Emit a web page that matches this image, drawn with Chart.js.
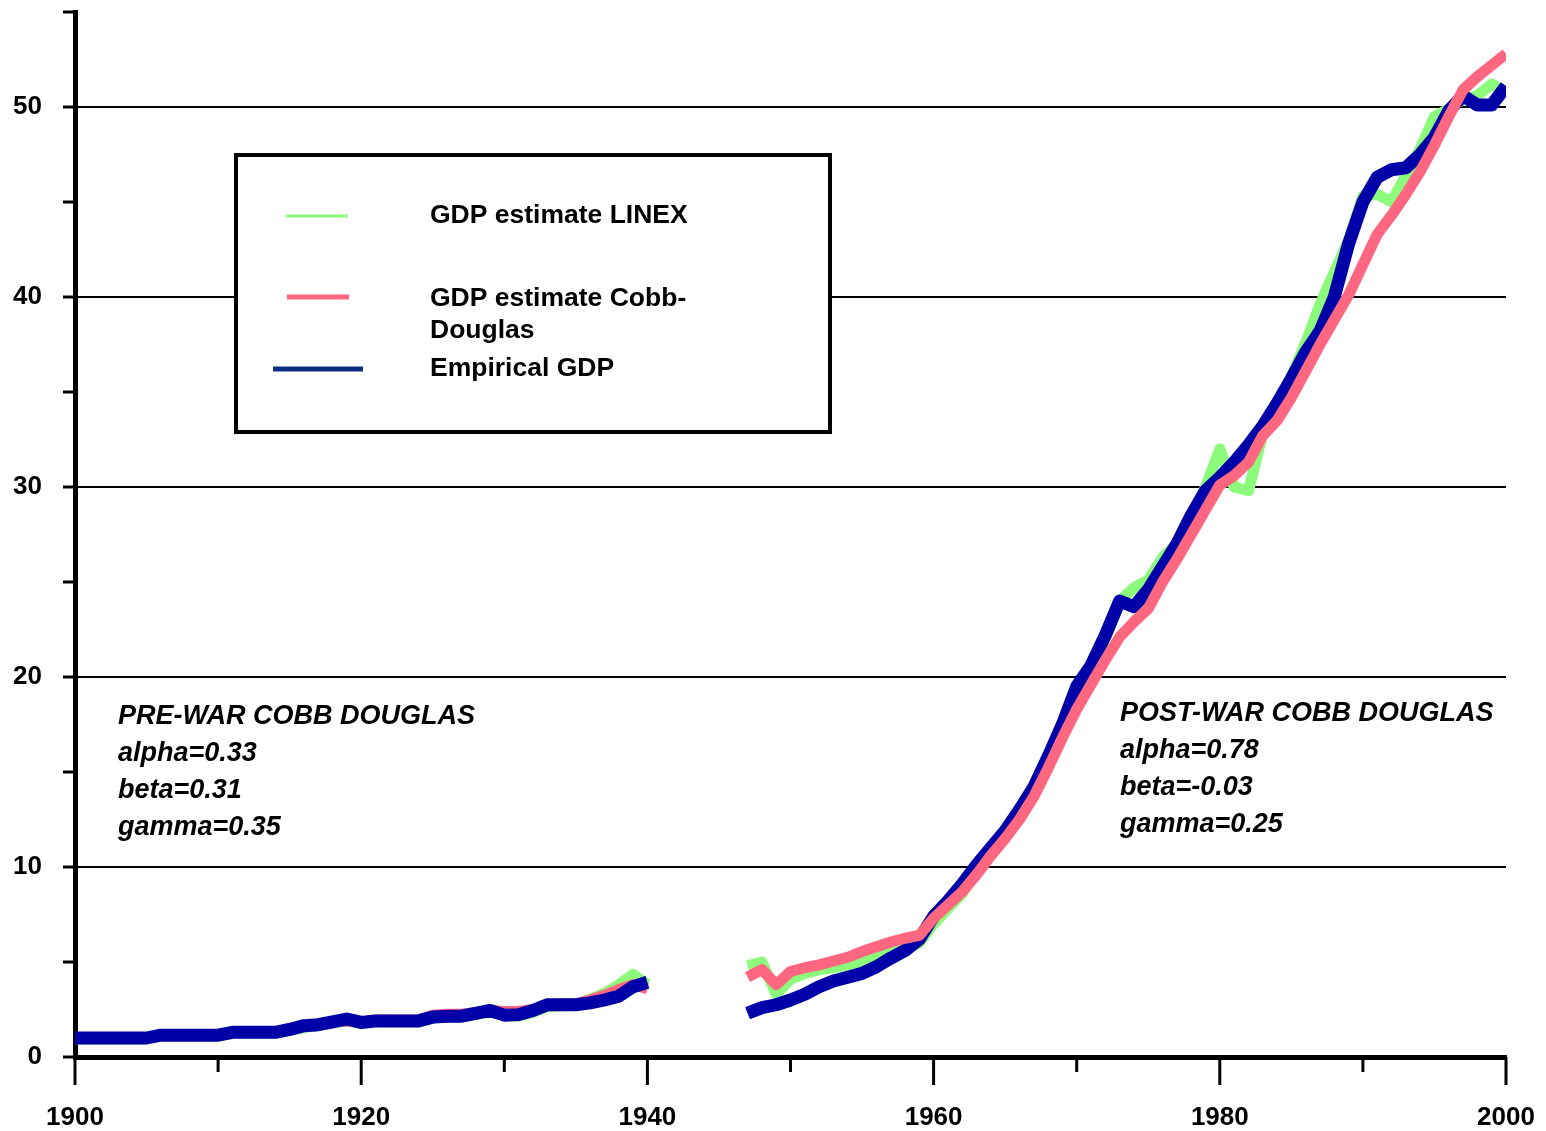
<!DOCTYPE html>
<html>
<head>
<meta charset="utf-8">
<script src="https://cdn.jsdelivr.net/npm/chart.js@4.4.1/dist/chart.umd.min.js"></script>
<style>
  html, body { margin: 0; padding: 0; background: #fff; }
  #wrap { width: 1546px; height: 1131px; position: relative; }
</style>
</head>
<body>
<div id="wrap"><canvas id="gdpChart"></canvas></div>
<script>
// years, split at the war gap
const preYears = [1900, 1901, 1902, 1903, 1904, 1905, 1906, 1907, 1908, 1909,
    1910, 1911, 1912, 1913, 1914, 1915, 1916, 1917, 1918, 1919,
    1920, 1921, 1922, 1923, 1924, 1925, 1926, 1927, 1928, 1929,
    1930, 1931, 1932, 1933, 1934, 1935, 1936, 1937, 1938, 1939, 1940];
const postYears = [1947, 1948, 1949, 1950, 1951, 1952, 1953, 1954, 1955, 1956,
    1957, 1958, 1959, 1960, 1961, 1962, 1963, 1964, 1965, 1966,
    1967, 1968, 1969, 1970, 1971, 1972, 1973, 1974, 1975, 1976,
    1977, 1978, 1979, 1980, 1981, 1982, 1983, 1984, 1985, 1986,
    1987, 1988, 1989, 1990, 1991, 1992, 1993, 1994, 1995, 1996,
    1997, 1998, 1999, 2000];

const linexPre = [0.95, 0.95, 0.95, 0.95, 0.95, 0.95, 1.1, 1.1, 1.1, 1.1,
    1.1, 1.25, 1.25, 1.25, 1.25, 1.4, 1.55, 1.65, 1.8, 1.9,
    1.75, 1.85, 1.85, 1.85, 1.85, 2.05, 2.1, 2.1, 2.25, 2.35,
    2.2, 2.15, 2.35, 2.65, 2.7, 2.75, 3.05, 3.35, 3.8, 4.35, 3.8];
const cobbPre = [1.0, 1.0, 1.0, 1.0, 1.0, 1.0, 1.15, 1.15, 1.15, 1.15,
    1.15, 1.3, 1.3, 1.3, 1.3, 1.5, 1.6, 1.7, 1.85, 1.9,
    1.85, 1.95, 1.95, 1.95, 1.95, 2.2, 2.25, 2.25, 2.35, 2.45,
    2.4, 2.4, 2.5, 2.7, 2.8, 2.8, 3.0, 3.25, 3.55, 3.8, 3.6];
const empiricalPre = [1.0, 1.0, 1.0, 1.0, 1.0, 1.0, 1.15, 1.15, 1.15, 1.15,
    1.15, 1.3, 1.3, 1.3, 1.3, 1.45, 1.65, 1.7, 1.85, 2.0,
    1.82, 1.9, 1.9, 1.9, 1.9, 2.1, 2.15, 2.15, 2.3, 2.45,
    2.2, 2.23, 2.45, 2.75, 2.75, 2.75, 2.85, 3.0, 3.2, 3.7, 3.93];

const linexPost = [4.8, 5.0, 3.3, 4.1, 4.4, 4.6, 4.7, 4.85, 5.0, 5.2,
    5.5, 5.7, 6.0, 7.0, 7.8, 8.6, 9.8, 10.8, 11.9, 13.0,
    14.3, 15.8, 17.5, 18.9, 20.4, 22.0, 24.0, 24.7, 25.1, 26.3,
    27.0, 28.4, 30.0, 32.0, 30.0, 29.8, 32.8, 33.6, 35.8, 37.6,
    39.6, 41.3, 43.0, 45.3, 45.4, 45.0, 46.4, 47.8, 49.5, 49.9,
    50.4, 50.6, 51.2, 50.8];
const cobbPost = [4.2, 4.6, 3.8, 4.5, 4.7, 4.85, 5.05, 5.25, 5.55, 5.8,
    6.05, 6.25, 6.4, 7.3, 8.0, 8.7, 9.6, 10.6, 11.5, 12.5,
    13.7, 15.2, 16.8, 18.3, 19.6, 20.9, 22.1, 22.9, 23.6, 25.0,
    26.2, 27.5, 28.8, 30.1, 30.6, 31.3, 32.7, 33.5, 34.7, 36.1,
    37.5, 38.8, 40.1, 41.7, 43.3, 44.3, 45.4, 46.6, 48.0, 49.5,
    50.9, 51.6, 52.2, 52.8];
const empiricalPost = [2.3, 2.6, 2.75, 3.0, 3.3, 3.7, 4.0, 4.2, 4.4, 4.75,
    5.2, 5.6, 6.2, 7.4, 8.2, 9.1, 10.1, 11.0, 11.9, 13.0,
    14.2, 15.8, 17.5, 19.5, 20.6, 22.2, 24.0, 23.7, 24.6, 25.8,
    27.0, 28.5, 29.8, 30.5, 31.3, 32.2, 33.2, 34.4, 35.7, 37.1,
    38.2, 40.0, 42.8, 45.0, 46.3, 46.7, 46.8, 47.5, 48.4, 49.8,
    50.6, 50.1, 50.1, 51.1];

const yTicks = [0, 10, 20, 30, 40, 50];
const xTicks = [1900, 1920, 1940, 1960, 1980, 2000];

const legendLines = [['GDP estimate LINEX'], ['GDP estimate Cobb-', 'Douglas'], ['Empirical GDP']];
const preNote = ['PRE-WAR COBB DOUGLAS', 'alpha=0.33', 'beta=0.31', 'gamma=0.35'];
const postNote = ['POST-WAR COBB DOUGLAS', 'alpha=0.78', 'beta=-0.03', 'gamma=0.25'];

const GREEN = '#8cfa7a';
const PINK = '#ff6680';
const BLUE = '#0000a8';
const FONT = '"Liberation Sans", Arial, sans-serif';

function pts(xs, ys) {
    return xs.map((x, i) => ({ x: x, y: ys[i] }));
}

function line(data, color, width, order) {
    return {
        data: data,
        borderColor: color,
        backgroundColor: color,
        borderWidth: width,
        borderJoinStyle: 'round',
        pointRadius: 0,
        tension: 0,
        fill: false,
        order: order,
    };
}

const decorations = {
    id: 'decorations',
    afterDraw(chart) {
        const ctx = chart.ctx;
        const x = chart.scales.x;
        const area = chart.chartArea;
        ctx.save();

        // x tick marks: long at labelled decades, short between
        ctx.strokeStyle = '#000';
        ctx.lineWidth = 3;
        x.ticks.forEach(t => {
            const px = x.getPixelForValue(t.value);
            const len = xTicks.includes(t.value) ? 28 : 15;
            ctx.beginPath();
            ctx.moveTo(px, area.bottom);
            ctx.lineTo(px, area.bottom + len);
            ctx.stroke();
        });

        // legend box
        ctx.fillStyle = '#fff';
        ctx.fillRect(236, 155, 594, 277);
        ctx.lineWidth = 4;
        ctx.strokeRect(236, 155, 594, 277);

        const samples = [
            { x0: 286, x1: 348, y: 216, w: 3, c: GREEN },
            { x0: 287, x1: 349, y: 297, w: 5, c: PINK },
            { x0: 273, x1: 363, y: 369, w: 5, c: '#0a2e80' },
        ];
        const baselines = [[223], [306, 338], [376]];
        ctx.lineCap = 'butt';
        samples.forEach((s, i) => {
            ctx.strokeStyle = s.c;
            ctx.lineWidth = s.w;
            ctx.beginPath();
            ctx.moveTo(s.x0, s.y);
            ctx.lineTo(s.x1, s.y);
            ctx.stroke();
            ctx.fillStyle = '#000';
            ctx.font = 'bold 26.5px ' + FONT;
            ctx.textBaseline = 'alphabetic';
            ctx.textAlign = 'left';
            legendLines[i].forEach((txt, j) => ctx.fillText(txt, 430, baselines[i][j]));
        });

        // parameter notes
        ctx.font = 'italic bold 27px ' + FONT;
        ctx.fillStyle = '#000';
        preNote.forEach((txt, i) => ctx.fillText(txt, 118, 724 + i * 37));
        postNote.forEach((txt, i) => ctx.fillText(txt, 1120, 721 + i * 37));

        ctx.restore();
    }
};

new Chart(document.getElementById('gdpChart'), {
    type: 'line',
    data: {
        datasets: [
            line(pts(preYears, empiricalPre), BLUE, 13, 0),
            line(pts(preYears, cobbPre), PINK, 11, 1),
            line(pts(preYears, linexPre), GREEN, 11, 2),
            line(pts(postYears, cobbPost), PINK, 11, 0),
            line(pts(postYears, empiricalPost), BLUE, 13, 1),
            line(pts(postYears, linexPost), GREEN, 11, 2),
        ],
    },
    options: {
        responsive: true,
        maintainAspectRatio: false,
        animation: false,
        layout: {
            padding: { top: 12, right: 40, left: 0, bottom: 0 },
        },
        plugins: {
            legend: { display: false },
            tooltip: { enabled: false },
        },
        scales: {
            x: {
                type: 'linear',
                min: 1900,
                max: 2000,
                grid: { display: false },
                border: { display: true, color: '#000', width: 5 },
                ticks: {
                    stepSize: 10,
                    autoSkip: false,
                    maxRotation: 0,
                    padding: 37,
                    color: '#000',
                    font: { family: FONT, size: 26, weight: 'bold' },
                    callback: v => xTicks.includes(v) ? String(v) : '',
                },
                afterFit(scale) {
                    scale.height = 74;
                    scale.paddingLeft = 0;
                    scale.paddingRight = 0;
                },
            },
            y: {
                min: 0,
                max: 55,
                grid: {
                    color: c => (c.tick && yTicks.includes(c.tick.value) && c.tick.value > 0) ? '#000' : 'rgba(0,0,0,0)',
                    lineWidth: 2,
                    tickLength: 12,
                    tickColor: '#000',
                    tickWidth: 3,
                },
                border: { display: true, color: '#000', width: 5 },
                ticks: {
                    stepSize: 5,
                    padding: 21,
                    color: '#000',
                    font: { family: FONT, size: 26, weight: 'bold' },
                    callback: v => yTicks.includes(v) ? String(v) : '',
                },
                afterFit(scale) {
                    scale.width = 75;
                    scale.paddingTop = 0;
                    scale.paddingBottom = 0;
                },
            },
        },
    },
    plugins: [decorations],
});
</script>
</body>
</html>
